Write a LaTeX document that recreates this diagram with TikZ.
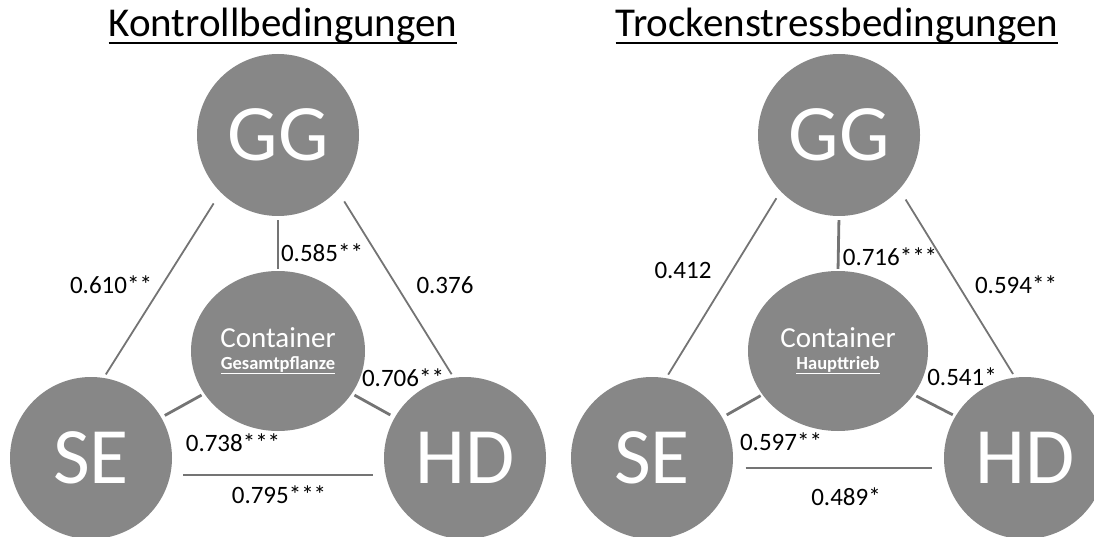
\documentclass[tikz,border=0pt]{standalone}
\usepackage{fontspec}
\setmainfont{Carlito}
\usepackage{tikz}
\usetikzlibrary{shapes.geometric}
\definecolor{nodegray}{HTML}{878787}
\definecolor{linkgray}{HTML}{747474}
\newcommand{\ultext}[3]{\setbox0=\hbox{#3}\rlap{\rule[-#1]{\wd0}{#2}}\box0}
\newcommand{\tissue}[1]{{\fontsize{18.5}{22}\selectfont\bfseries\ultext{5pt}{1.3pt}{#1}}}
\tikzstyle{trait} = [circle, fill=nodegray, text=white, inner sep=0pt, minimum size=162pt, font=\fontsize{80}{90}\selectfont]
\tikzstyle{hub} = [ellipse, fill=nodegray, text=white, inner sep=0pt, minimum height=160pt, align=center, font=\fontsize{29}{22}\selectfont]
\tikzstyle{heading} = [anchor=base, inner sep=0pt, font=\fontsize{41}{48}\selectfont]
\tikzstyle{coef} = [inner sep=0pt, font=\fontsize{25}{30}\selectfont]
\tikzstyle{thinlink} = [draw=linkgray, line width=1.8pt]
\tikzstyle{thicklink} = [draw=linkgray, line width=2.8pt]

\begin{document}
\begin{tikzpicture}[x=1pt, y=-1pt]
    \useasboundingbox (0,0) rectangle (1094,537);

    % Kontrolle
    \node[heading] (ktitle) at (283,37) {\ultext{7pt}{2pt}{Kontrollbedingungen}};
    \node[trait] (kgg) at (278,135) {GG};
    \node[trait] (kse) at (91,458) {SE};
    \node[trait] (khd) at (465,458) {HD};
    \node[hub, minimum width=174pt] (kcont) at (278,351) {Container\\\tissue{Gesamtpflanze}};

    \draw[thinlink, shorten <=13pt, shorten >=4pt] (kgg.225) -- (kse.81);
    \draw[thinlink, shorten <=13pt, shorten >=4pt] (kgg.317) -- (khd.98);
    \draw[thicklink, shorten <=4pt, shorten >=2pt] (kgg.south) -- (kcont.north);
    \draw[thicklink, shorten <=3pt, shorten >=4pt] (kcont.210) -- (kse.30);
    \draw[thicklink, shorten <=3pt, shorten >=5pt] (kcont.330) -- (khd.150);
    \draw[thinlink, line width=2.2pt, shorten <=13pt, shorten >=13pt] (kse.348) -- (khd.192);

    \node[coef] (kgs) at (111,285) {0.610**};
    \node[coef] (kgh) at (445,285) {0.376};
    \node[coef] (kgc) at (322,253) {0.585**};
    \node[coef] (kch) at (403,378) {0.706**};
    \node[coef] (kcs) at (233,443) {0.738***};
    \node[coef] (ksh) at (279,495) {0.795***};

    % Trockenstress
    \node[heading] (ttitle) at (837,37) {\ultext{7pt}{2pt}{Trockenstressbedingungen}};
    \node[trait] (tgg) at (839,135) {GG};
    \node[trait] (tse) at (652,458) {SE};
    \node[trait] (thd) at (1025,458) {HD};
    \node[hub, minimum width=180pt] (tcont) at (838,351) {Container\\\tissue{Haupttrieb}};

    \draw[thinlink, shorten <=8pt, shorten >=4pt] (tgg.224) -- (tse.80);
    \draw[thinlink, shorten <=12pt, shorten >=4pt] (tgg.318) -- (thd.97);
    \draw[thicklink, shorten <=4pt, shorten >=2pt] (tgg.south) -- (tcont.north);
    \draw[thicklink, shorten <=2pt, shorten >=5pt] (tcont.210) -- (tse.30);
    \draw[thicklink, shorten <=3pt, shorten >=3pt] (tcont.330) -- (thd.149);
    \draw[thinlink, line width=2.2pt, shorten <=13pt, shorten >=12pt] (tse.353) -- (thd.187);

    \node[coef] (tgs) at (683,270) {0.412};
    \node[coef] (tgh) at (1016,285) {0.594**};
    \node[coef] (tgc) at (890,257) {0.716***};
    \node[coef] (tch) at (962,377) {0.541*};
    \node[coef] (tcs) at (781,442) {0.597**};
    \node[coef] (tsh) at (846,497) {0.489*};
\end{tikzpicture}
\end{document}
